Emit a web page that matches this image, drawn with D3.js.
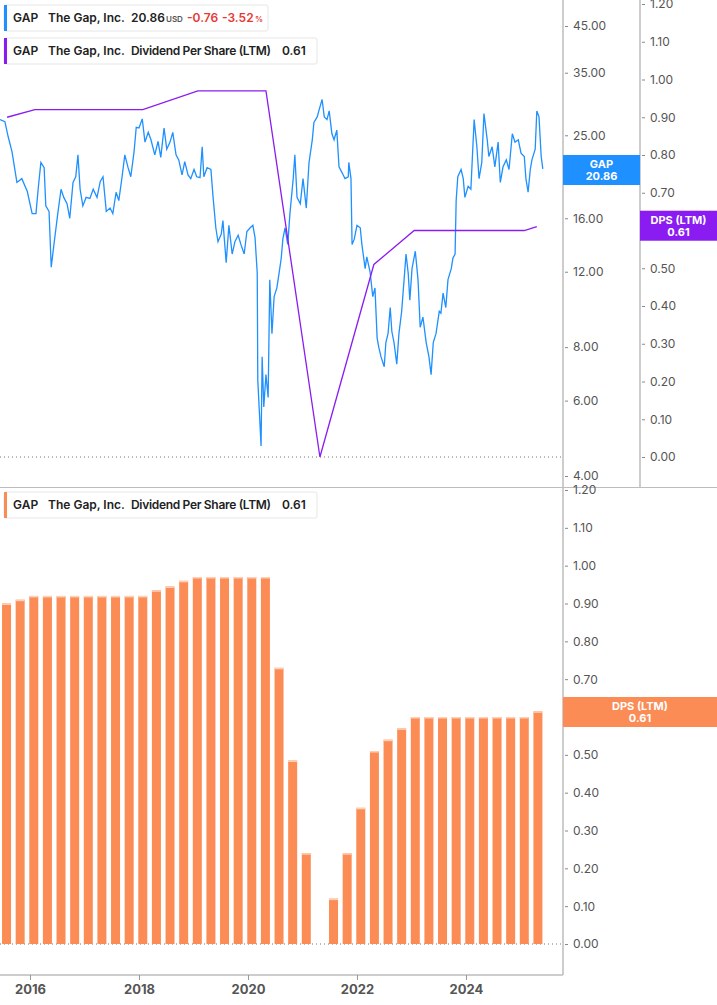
<!DOCTYPE html>
<html>
<head>
<meta charset="utf-8">
<script src="https://cdn.jsdelivr.net/npm/d3@7"></script>
<style>
  body { margin: 0; background: #fff; font-family: Inter, "Noto Sans", sans-serif; }
  svg { display: block; }
</style>
</head>
<body>
<div id="chart"></div>
<script>
// Share price (decimal year, USD).
const priceYears = [2015.45,2015.54,2015.60,2015.67,2015.76,2015.85,2015.95,2016.04,2016.11,2016.15,2016.20,2016.26,2016.29,2016.35,2016.39,2016.44,2016.51,2016.57,2016.62,2016.68,2016.73,2016.79,2016.84,2016.88,2016.92,2016.97,2017.03,2017.10,2017.16,2017.23,2017.29,2017.34,2017.40,2017.47,2017.52,2017.58,2017.63,2017.69,2017.74,2017.80,2017.85,2017.91,2017.95,2018.00,2018.06,2018.11,2018.17,2018.22,2018.29,2018.35,2018.40,2018.46,2018.51,2018.57,2018.62,2018.68,2018.73,2018.79,2018.84,2018.90,2018.95,2019.01,2019.06,2019.12,2019.16,2019.19,2019.25,2019.32,2019.36,2019.41,2019.45,2019.51,2019.54,2019.60,2019.65,2019.71,2019.76,2019.82,2019.87,2019.93,2019.98,2020.04,2020.09,2020.13,2020.17,2020.18,2020.22,2020.24,2020.26,2020.29,2020.33,2020.37,2020.40,2020.44,2020.48,2020.53,2020.57,2020.61,2020.64,2020.68,2020.73,2020.77,2020.83,2020.86,2020.90,2020.96,2021.01,2021.07,2021.12,2021.18,2021.21,2021.27,2021.30,2021.36,2021.40,2021.45,2021.49,2021.54,2021.58,2021.63,2021.67,2021.73,2021.78,2021.84,2021.85,2021.89,2021.91,2021.95,2022.00,2022.06,2022.09,2022.15,2022.18,2022.24,2022.29,2022.33,2022.37,2022.40,2022.44,2022.50,2022.53,2022.57,2022.61,2022.64,2022.68,2022.73,2022.77,2022.82,2022.88,2022.90,2022.94,2022.97,2023.01,2023.07,2023.12,2023.16,2023.21,2023.27,2023.32,2023.36,2023.40,2023.45,2023.51,2023.54,2023.58,2023.63,2023.67,2023.73,2023.76,2023.80,2023.82,2023.85,2023.91,2023.95,2023.98,2024.04,2024.09,2024.15,2024.20,2024.24,2024.29,2024.33,2024.39,2024.42,2024.48,2024.53,2024.59,2024.63,2024.68,2024.74,2024.79,2024.85,2024.90,2024.96,2025.01,2025.07,2025.10,2025.14,2025.18,2025.21,2025.27,2025.30,2025.34,2025.38,2025.41];
const priceValues = [27.2,26.9,24.8,22.9,19.4,19.8,18.5,16.4,16.4,18.7,21.6,21.0,17.1,16.6,12.3,13.9,16.4,18.7,17.9,17.3,16.0,19.4,20.0,22.5,18.7,17.1,17.9,17.8,18.7,17.9,19.5,20.0,16.6,16.9,16.4,18.4,17.6,20.0,22.5,21.0,20.0,22.9,26.1,26.0,27.3,24.1,25.4,24.4,22.5,24.2,22.2,26.0,23.2,24.1,25.4,22.5,21.9,20.2,21.7,20.2,19.8,20.8,20.0,19.9,23.5,20.0,21.0,20.8,17.9,15.2,14.1,14.7,15.8,12.6,15.4,13.2,14.1,14.6,13.9,13.2,14.9,15.2,15.4,14.4,11.9,6.7,5.3,4.7,7.6,5.8,6.9,6.1,11.5,8.6,10.5,11.0,11.9,12.9,14.3,15.2,13.9,16.4,19.8,22.5,17.9,17.3,19.8,16.9,21.6,24.4,26.8,27.6,28.5,30.3,27.6,27.2,28.5,25.2,24.4,25.7,21.1,20.4,19.8,20.0,21.6,19.8,13.9,14.3,15.4,15.2,13.9,12.2,13.0,12.0,10.5,11.0,8.4,8.0,7.6,7.2,8.2,8.6,9.9,8.7,8.2,7.3,8.6,9.7,12.2,13.2,11.9,10.3,12.2,13.4,11.5,8.9,9.4,8.2,7.6,6.9,8.2,8.6,9.7,9.6,10.7,9.9,11.5,12.2,12.9,13.2,17.6,20.0,20.8,19.8,17.9,19.0,18.7,27.2,23.5,19.8,21.6,28.1,24.4,22.3,23.5,21.1,24.1,19.4,21.1,21.9,20.8,25.2,24.1,24.4,22.7,22.3,19.8,18.4,20.8,21.9,23.2,28.5,27.6,22.3,20.86];

// DPS (LTM) line on the upper panel
const dpsLineYears = [2015.58,2016.09,2018.07,2019.08,2020.33,2021.32,2022.31,2023.05,2025.07,2025.30];
const dpsLineValues = [0.90,0.92,0.92,0.97,0.97,0.00,0.51,0.60,0.60,0.61];

// Quarterly DPS (LTM) bars, lower panel
const barStartYear = 2015.57;
const barValues = [0.90,0.91,0.92,0.92,0.92,0.92,0.92,0.92,0.92,0.92,0.92,0.935,0.945,0.96,0.97,0.97,0.97,0.97,0.97,0.97,0.73,0.485,0.24,0,0.12,0.24,0.36,0.51,0.54,0.57,0.60,0.60,0.60,0.60,0.60,0.60,0.60,0.60,0.60,0.615];

const priceTicks = [4, 6, 8, 12, 16, 20, 25, 35, 45];
const dpsTicks = [0,0.1,0.2,0.3,0.4,0.5,0.6,0.7,0.8,0.9,1.0,1.1,1.2];
const yearTicks = [2016, 2018, 2020, 2022, 2024];

const W = 717, H = 1005;
const PLOT_R = 563, DPS_AX = 640;
const BLUE = '#1e90ff', PURPLE = '#8a1cf2', ORANGE = '#fc8c55', AXIS = '#bdbdbd', TXT = '#555';

const svg = d3.select('#chart').append('svg').attr('width', W).attr('height', H);

const x = d3.scaleLinear().domain([2015.45, 2015.45 + PLOT_R / 54.5]).range([0, PLOT_R]);
const yPrice = d3.scaleLog().domain([4, 45]).range([476, 26]);
const yDpsTop = d3.scaleLinear().domain([0, 1.2]).range([457, 4]);
const yDpsBot = d3.scaleLinear().domain([0, 1.2]).range([944, 490]);

// frame lines
const frame = svg.append('g').attr('stroke', AXIS).attr('stroke-width', 1.5);
frame.append('line').attr('x1', PLOT_R).attr('x2', PLOT_R).attr('y1', 0).attr('y2', 975);
frame.append('line').attr('x1', DPS_AX).attr('x2', DPS_AX).attr('y1', 0).attr('y2', 487);
frame.append('line').attr('x1', 0).attr('x2', W).attr('y1', 487.5).attr('y2', 487.5).attr('stroke-width', 1);
frame.append('line').attr('x1', 0).attr('x2', PLOT_R).attr('y1', 975).attr('y2', 975);

// zero dotted lines
[yDpsTop(0), yDpsBot(0)].forEach(yy => {
  svg.append('line').attr('x1', 0).attr('x2', PLOT_R).attr('y1', yy).attr('y2', yy)
    .attr('stroke', '#777').attr('stroke-dasharray', '1,3');
});

// bars
const bw = 9;
const bars = svg.append('g');
barValues.forEach((v, i) => {
  if (v <= 0) return;
  const cx = x(barStartYear + i * 0.25);
  bars.append('rect').attr('x', cx - bw / 2).attr('width', bw)
    .attr('y', yDpsBot(v)).attr('height', yDpsBot(0) - yDpsBot(v)).attr('fill', ORANGE);
  bars.append('rect').attr('x', cx - bw / 2).attr('width', bw)
    .attr('y', yDpsBot(v)).attr('height', 1.5).attr('fill', '#fdd0b8');
});

// price line
const priceData = priceYears.map((t, i) => [t, priceValues[i]]);
svg.append('path').datum(priceData)
  .attr('fill', 'none').attr('stroke', BLUE).attr('stroke-width', 1.3)
  .attr('d', d3.line().x(d => x(d[0])).y(d => yPrice(d[1])));

// dps line
const dpsData = dpsLineYears.map((t, i) => [t, dpsLineValues[i]]);
svg.append('path').datum(dpsData)
  .attr('fill', 'none').attr('stroke', PURPLE).attr('stroke-width', 1.3)
  .attr('d', d3.line().x(d => x(d[0])).y(d => yDpsTop(d[1])));

// axes
function rightAxis(scale, ticks, xPos, fmt) {
  const g = svg.append('g').attr('transform', `translate(${xPos},0)`);
  g.call(d3.axisRight(scale).tickValues(ticks).tickFormat(fmt).tickSize(3).tickPadding(5));
  g.select('.domain').remove();
  g.selectAll('.tick line').attr('stroke', '#888');
  g.selectAll('.tick text').attr('fill', TXT).attr('font-size', 12).attr('font-family', 'Inter, sans-serif');
  return g;
}
rightAxis(yPrice, priceTicks, PLOT_R + 2, d3.format('.2f'));
rightAxis(yDpsTop, dpsTicks, DPS_AX + 2, d3.format('.2f'));
rightAxis(yDpsBot, dpsTicks, PLOT_R + 2, d3.format('.2f'));

const xg = svg.append('g').attr('transform', 'translate(0,975)')
  .call(d3.axisBottom(x).tickValues(yearTicks).tickFormat(d3.format('d')).tickSize(5).tickPadding(5));
xg.select('.domain').remove();
xg.selectAll('.tick line').attr('stroke', '#999');
xg.selectAll('.tick text').attr('fill', TXT).attr('font-size', 13).attr('font-weight', 700).attr('font-family', 'Inter, sans-serif');

// value badges
function badge(x0, w, yc, h, color, l1, l2) {
  const g = svg.append('g');
  g.append('rect').attr('x', x0).attr('y', yc - h / 2).attr('width', w).attr('height', h).attr('fill', color);
  g.append('text').attr('x', x0 + w / 2).attr('y', yc - 2).attr('text-anchor', 'middle')
    .attr('fill', '#fff').attr('font-size', 11).attr('font-weight', 700).text(l1);
  g.append('text').attr('x', x0 + w / 2).attr('y', yc + 10).attr('text-anchor', 'middle')
    .attr('fill', '#fff').attr('font-size', 11).attr('font-weight', 700).text(l2);
}
badge(PLOT_R, DPS_AX - PLOT_R, 170, 30, BLUE, 'GAP', '20.86');
badge(DPS_AX, W - DPS_AX, yDpsTop(0.61) - 1, 30, PURPLE, 'DPS (LTM)', '0.61');
badge(PLOT_R, W - PLOT_R, 712, 30, ORANGE, 'DPS (LTM)', '0.61');

// legends
function legend(y, w, color, parts) {
  const g = svg.append('g').attr('transform', `translate(4,${y})`);
  g.append('rect').attr('width', w).attr('height', 26).attr('rx', 2)
    .attr('fill', '#fff').attr('stroke', '#e6e6e6');
  g.append('rect').attr('width', 3).attr('height', 26).attr('fill', color);
  const t = g.append('text').attr('y', 17).attr('font-size', 12).attr('font-weight', 600).attr('fill', '#222');
  parts.forEach(p => {
    t.append('tspan').attr('x', p.x).attr('fill', p.c || '#222').attr('font-size', p.s || 12)
      .attr('font-weight', p.w || 600).attr('textLength', p.l || null).text(p.t);
  });
}
legend(5, 264, BLUE, [
  { x: 9, t: 'GAP' }, { x: 44, t: 'The Gap, Inc.' }, { x: 127, t: '20.86' },
  { x: 162, t: 'USD', s: 8, c: '#555' }, { x: 183, t: '-0.76', c: '#e53935' },
  { x: 218, t: '-3.52', c: '#e53935' }, { x: 251, t: '%', s: 8, c: '#e53935' }
]);
legend(38, 313, PURPLE, [
  { x: 9, t: 'GAP' }, { x: 44, t: 'The Gap, Inc.' }, { x: 127, t: 'Dividend Per Share (LTM)', l: 140 }, { x: 278, t: '0.61' }
]);
legend(492, 313, ORANGE, [
  { x: 9, t: 'GAP' }, { x: 44, t: 'The Gap, Inc.' }, { x: 127, t: 'Dividend Per Share (LTM)', l: 140 }, { x: 278, t: '0.61' }
]);
</script>
</body>
</html>
